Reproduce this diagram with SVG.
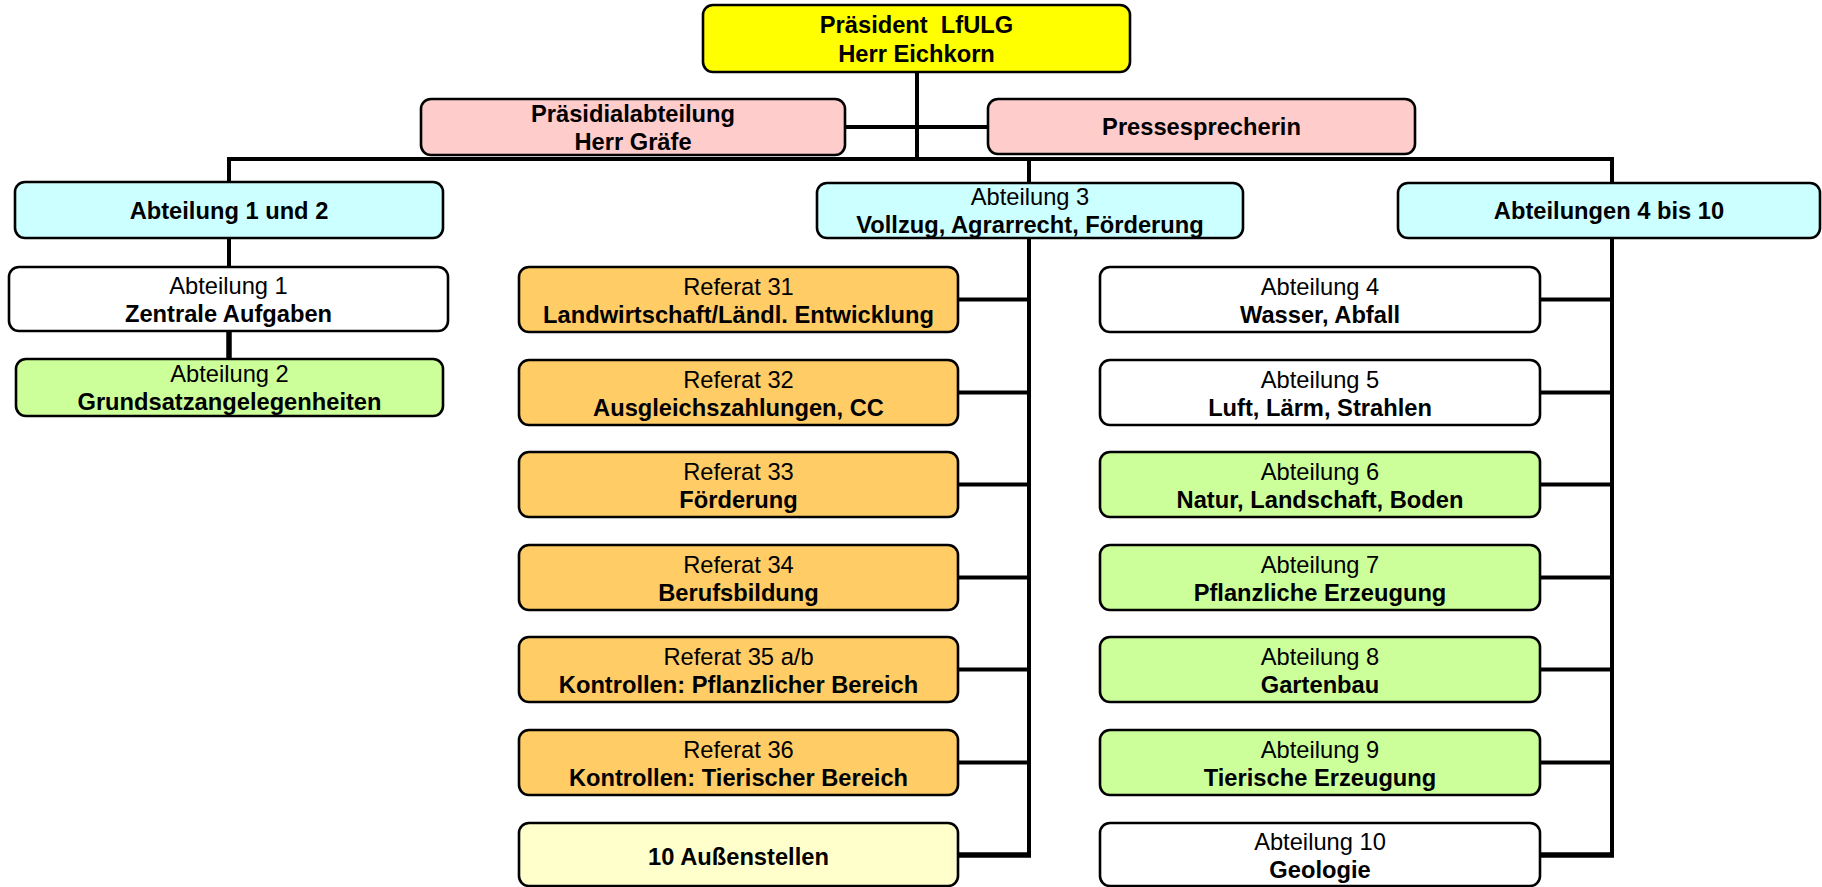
<svg xmlns="http://www.w3.org/2000/svg" width="1822" height="887" viewBox="0 0 1822 887">
<style>
.box{stroke:#000;stroke-width:2.6}
.yel{fill:#FFFF00}.pink{fill:#FFCCCC}.cyan{fill:#CCFFFF}.org{fill:#FFCC66}.lyel{fill:#FFFFCC}.grn{fill:#CCFF99}.wht{fill:#FFFFFF}
text{font-family:"Liberation Sans",Arial,sans-serif;font-size:23.7px;fill:#000;text-anchor:middle}
.b{font-weight:bold}
.ln{stroke:#000;stroke-width:4;fill:none}
.lnk{stroke:#000;stroke-width:5.5;fill:none}
</style>
<rect width="1822" height="887" fill="#FFFFFF"/>
<g id="connectors">
<line class="ln" x1="917" y1="72" x2="917" y2="159"/>
<line class="ln" x1="845" y1="127" x2="988" y2="127"/>
<line class="ln" x1="227" y1="159" x2="1614" y2="159"/>
<line class="ln" x1="229" y1="159" x2="229" y2="182"/>
<line class="ln" x1="229" y1="238" x2="229" y2="267"/>
<line class="lnk" x1="229" y1="331" x2="229" y2="359"/>
<line class="ln" x1="1029" y1="159" x2="1029" y2="183"/>
<line class="ln" x1="1029" y1="238" x2="1029" y2="857"/>
<line class="ln" x1="1612" y1="159" x2="1612" y2="183"/>
<line class="ln" x1="1612" y1="238" x2="1612" y2="857"/>
<line class="ln" x1="958" y1="299.5" x2="1029" y2="299.5"/>
<line class="ln" x1="958" y1="392.5" x2="1029" y2="392.5"/>
<line class="ln" x1="958" y1="484.5" x2="1029" y2="484.5"/>
<line class="ln" x1="958" y1="577.5" x2="1029" y2="577.5"/>
<line class="ln" x1="958" y1="669.5" x2="1029" y2="669.5"/>
<line class="ln" x1="958" y1="762.5" x2="1029" y2="762.5"/>
<line class="lnk" x1="958" y1="855" x2="1031" y2="855"/>
<line class="ln" x1="1540" y1="299.5" x2="1612" y2="299.5"/>
<line class="ln" x1="1540" y1="392.5" x2="1612" y2="392.5"/>
<line class="ln" x1="1540" y1="484.5" x2="1612" y2="484.5"/>
<line class="ln" x1="1540" y1="577.5" x2="1612" y2="577.5"/>
<line class="ln" x1="1540" y1="669.5" x2="1612" y2="669.5"/>
<line class="ln" x1="1540" y1="762.5" x2="1612" y2="762.5"/>
<line class="lnk" x1="1540" y1="855" x2="1614" y2="855"/>
</g>
<g id="praesident">
<rect class="box yel" x="703" y="5" width="427" height="67" rx="10"/>
<text class="b" x="916.5" y="33" xml:space="preserve">Präsident  LfULG</text>
<text class="b" x="916.5" y="62">Herr Eichkorn</text>
</g>
<g id="praesidialabteilung">
<rect class="box pink" x="421" y="99" width="424" height="56" rx="10"/>
<text class="b" x="633" y="122">Präsidialabteilung</text>
<text class="b" x="633" y="150">Herr Gräfe</text>
</g>
<g id="pressesprecherin">
<rect class="box pink" x="988" y="99" width="427" height="55" rx="10"/>
<text class="b" x="1201.5" y="135">Pressesprecherin</text>
</g>
<g id="abt1und2">
<rect class="box cyan" x="15" y="182" width="428" height="56" rx="10"/>
<text class="b" x="229" y="219">Abteilung 1 und 2</text>
</g>
<g id="abt3">
<rect class="box cyan" x="817" y="183" width="426" height="55" rx="10"/>
<text x="1030" y="205">Abteilung 3</text>
<text class="b" x="1030" y="233">Vollzug, Agrarrecht, Förderung</text>
</g>
<g id="abt4bis10">
<rect class="box cyan" x="1398" y="183" width="422" height="55" rx="10"/>
<text class="b" x="1609" y="219">Abteilungen 4 bis 10</text>
</g>
<g id="abt1">
<rect class="box wht" x="9" y="267" width="439" height="64" rx="10"/>
<text x="228.5" y="294">Abteilung 1</text>
<text class="b" x="228.5" y="322">Zentrale Aufgaben</text>
</g>
<g id="abt2">
<rect class="box grn" x="16" y="359" width="427" height="57" rx="10"/>
<text x="229.5" y="382">Abteilung 2</text>
<text class="b" x="229.5" y="410">Grundsatzangelegenheiten</text>
</g>
<g id="ref31">
<rect class="box org" x="519" y="267" width="439" height="65" rx="10"/>
<text x="738.5" y="295">Referat 31</text>
<text class="b" x="738.5" y="323">Landwirtschaft/Ländl. Entwicklung</text>
</g>
<g id="ref32">
<rect class="box org" x="519" y="360" width="439" height="65" rx="10"/>
<text x="738.5" y="388">Referat 32</text>
<text class="b" x="738.5" y="416">Ausgleichszahlungen, CC</text>
</g>
<g id="ref33">
<rect class="box org" x="519" y="452" width="439" height="65" rx="10"/>
<text x="738.5" y="480">Referat 33</text>
<text class="b" x="738.5" y="508">Förderung</text>
</g>
<g id="ref34">
<rect class="box org" x="519" y="545" width="439" height="65" rx="10"/>
<text x="738.5" y="573">Referat 34</text>
<text class="b" x="738.5" y="601">Berufsbildung</text>
</g>
<g id="ref35">
<rect class="box org" x="519" y="637" width="439" height="65" rx="10"/>
<text x="738.5" y="665">Referat 35 a/b</text>
<text class="b" x="738.5" y="693">Kontrollen: Pflanzlicher Bereich</text>
</g>
<g id="ref36">
<rect class="box org" x="519" y="730" width="439" height="65" rx="10"/>
<text x="738.5" y="758">Referat 36</text>
<text class="b" x="738.5" y="786">Kontrollen: Tierischer Bereich</text>
</g>
<g id="aussenstellen">
<rect class="box lyel" x="519" y="823" width="439" height="63" rx="10"/>
<text class="b" x="738.5" y="865">10 Außenstellen</text>
</g>
<g id="abt4">
<rect class="box wht" x="1100" y="267" width="440" height="65" rx="10"/>
<text x="1320" y="295">Abteilung 4</text>
<text class="b" x="1320" y="323">Wasser, Abfall</text>
</g>
<g id="abt5">
<rect class="box wht" x="1100" y="360" width="440" height="65" rx="10"/>
<text x="1320" y="388">Abteilung 5</text>
<text class="b" x="1320" y="416">Luft, Lärm, Strahlen</text>
</g>
<g id="abt6">
<rect class="box grn" x="1100" y="452" width="440" height="65" rx="10"/>
<text x="1320" y="480">Abteilung 6</text>
<text class="b" x="1320" y="508">Natur, Landschaft, Boden</text>
</g>
<g id="abt7">
<rect class="box grn" x="1100" y="545" width="440" height="65" rx="10"/>
<text x="1320" y="573">Abteilung 7</text>
<text class="b" x="1320" y="601">Pflanzliche Erzeugung</text>
</g>
<g id="abt8">
<rect class="box grn" x="1100" y="637" width="440" height="65" rx="10"/>
<text x="1320" y="665">Abteilung 8</text>
<text class="b" x="1320" y="693">Gartenbau</text>
</g>
<g id="abt9">
<rect class="box grn" x="1100" y="730" width="440" height="65" rx="10"/>
<text x="1320" y="758">Abteilung 9</text>
<text class="b" x="1320" y="786">Tierische Erzeugung</text>
</g>
<g id="abt10">
<rect class="box wht" x="1100" y="823" width="440" height="63" rx="10"/>
<text x="1320" y="850">Abteilung 10</text>
<text class="b" x="1320" y="878">Geologie</text>
</g>
</svg>
